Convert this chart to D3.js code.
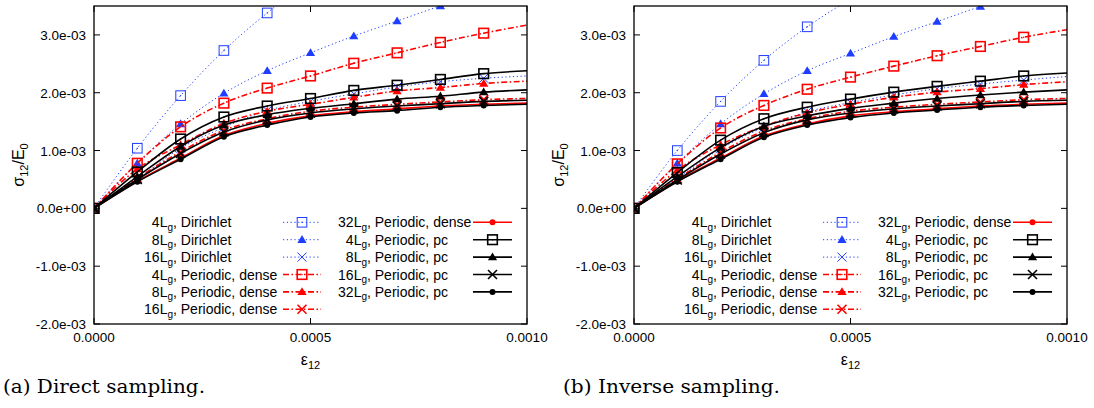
<!DOCTYPE html>
<html>
<head>
<meta charset="utf-8">
<script src="https://cdn.jsdelivr.net/npm/d3@7"></script>
<style>
  body { margin: 0; background: #fff; }
  svg text { font-family: 'Liberation Sans', Arial, sans-serif; fill: #000; }
  svg text.caption { font-family: 'DejaVu Serif', serif; }
</style>
</head>
<body>
<svg id="chart"></svg>
<script>
// strain values, one per sample (markers on all but the last)
const strain = [0, 0.0001, 0.0002, 0.0003, 0.0004, 0.0005, 0.0006, 0.0007, 0.0008, 0.0009, 0.001]
const xTicks = [0, 0.0005, 0.001]
const xTickLabels = ['0.0000', '0.0005', '0.0010']
const yTicks = [-2e-3, -1e-3, 0, 1e-3, 2e-3, 3e-3]
const yTickLabels = ['-2.0e-03', '-1.0e-03', '0.0e+00', '1.0e-03', '2.0e-03', '3.0e-03']

// legend order
const seriesSize = ['4', '8', '16', '4', '8', '16', '32', '4', '8', '16', '32']
const seriesCase = ['Dirichlet', 'Dirichlet', 'Dirichlet',
  'Periodic, dense', 'Periodic, dense', 'Periodic, dense', 'Periodic, dense',
  'Periodic, pc', 'Periodic, pc', 'Periodic, pc', 'Periodic, pc']

const captions = ['(a) Direct sampling.', '(b) Inverse sampling.']

// sigma12 / E0, in units of 1e-3, same order as the legend
const directSampling = [
  [0, 1.04, 1.95, 2.73, 3.38, 3.95, 4.45],
  [0, 0.78, 1.46, 1.99, 2.38, 2.69, 2.98, 3.24, 3.50, 3.72],
  [0, 0.50, 1.04, 1.40, 1.69, 1.85, 1.98, 2.10, 2.19, 2.25, 2.29],
  [0, 0.78, 1.41, 1.82, 2.08, 2.29, 2.51, 2.69, 2.87, 3.03, 3.17],
  [0, 0.68, 1.10, 1.47, 1.68, 1.80, 1.92, 2.03, 2.09, 2.16, 2.20],
  [0, 0.52, 0.98, 1.35, 1.55, 1.68, 1.75, 1.80, 1.84, 1.88, 1.90],
  [0, 0.47, 0.87, 1.26, 1.47, 1.60, 1.67, 1.72, 1.77, 1.80, 1.82],
  [0, 0.63, 1.20, 1.58, 1.77, 1.90, 2.04, 2.13, 2.23, 2.33, 2.38],
  [0, 0.55, 1.07, 1.44, 1.62, 1.73, 1.81, 1.89, 1.94, 2.01, 2.05],
  [0, 0.50, 0.95, 1.32, 1.53, 1.65, 1.72, 1.77, 1.81, 1.85, 1.87],
  [0, 0.46, 0.85, 1.24, 1.44, 1.58, 1.65, 1.69, 1.75, 1.78, 1.80]
]

const inverseSampling = [
  [0, 1.00, 1.85, 2.56, 3.14, 3.62, 4.05],
  [0, 0.78, 1.46, 1.98, 2.38, 2.68, 2.97, 3.23, 3.49, 3.72],
  [0, 0.52, 1.03, 1.40, 1.67, 1.83, 1.96, 2.07, 2.15, 2.22, 2.28],
  [0, 0.77, 1.39, 1.78, 2.06, 2.27, 2.46, 2.64, 2.80, 2.96, 3.09],
  [0, 0.66, 1.10, 1.42, 1.65, 1.80, 1.92, 2.01, 2.07, 2.14, 2.19],
  [0, 0.51, 0.97, 1.34, 1.55, 1.68, 1.75, 1.80, 1.84, 1.88, 1.90],
  [0, 0.47, 0.87, 1.25, 1.46, 1.60, 1.67, 1.72, 1.77, 1.80, 1.82],
  [0, 0.62, 1.18, 1.55, 1.75, 1.89, 2.01, 2.11, 2.20, 2.29, 2.34],
  [0, 0.55, 1.05, 1.42, 1.60, 1.73, 1.82, 1.90, 1.96, 2.01, 2.05],
  [0, 0.49, 0.94, 1.31, 1.53, 1.65, 1.72, 1.77, 1.81, 1.85, 1.87],
  [0, 0.46, 0.85, 1.23, 1.44, 1.57, 1.65, 1.70, 1.75, 1.78, 1.80]
]

// styles
const blue = '#1f3dff'
const red = '#ff0000'
const styles = [
  { color: blue, dash: '1.2,2.6', width: 1, marker: 'square' },
  { color: blue, dash: '1.2,2.6', width: 1, marker: 'triangle' },
  { color: blue, dash: '1.2,2.6', width: 1, marker: 'cross' },
  { color: red, dash: '6,2.5,1.5,2.5', width: 1.6, marker: 'square' },
  { color: red, dash: '6,2.5,1.5,2.5', width: 1.6, marker: 'triangle' },
  { color: red, dash: '6,2.5,1.5,2.5', width: 1.6, marker: 'cross' },
  { color: red, dash: null, width: 1.6, marker: 'circle' },
  { color: '#000', dash: null, width: 1.6, marker: 'square' },
  { color: '#000', dash: null, width: 1.6, marker: 'triangle' },
  { color: '#000', dash: null, width: 1.6, marker: 'cross' },
  { color: '#000', dash: null, width: 1.6, marker: 'circle' }
]

const W = 1094
const H = 408
const panelOffset = 540
const plot = { left: 94, top: 6, width: 433, height: 318 }

const svg = d3.select('#chart').attr('width', W).attr('height', H)

const xPositionScale = d3.scaleLinear().domain([0, 0.001]).range([0, plot.width])
const yPositionScale = d3.scaleLinear().domain([-2e-3, 3.5e-3]).range([plot.height, 0])

function drawMarker(g, type, cx, cy, s) {
  if (type === 'square') {
    g.append('rect')
      .attr('x', cx - 4.8).attr('y', cy - 4.8)
      .attr('width', 9.6).attr('height', 9.6)
      .attr('fill', 'none').attr('stroke', s.color).attr('stroke-width', s.width)
    g.append('circle').attr('cx', cx).attr('cy', cy).attr('r', 0.7).attr('fill', s.color)
  } else if (type === 'triangle') {
    g.append('path')
      .attr('d', `M${cx},${cy - 4.6}L${cx + 4.6},${cy + 3.2}L${cx - 4.6},${cy + 3.2}Z`)
      .attr('fill', s.color)
  } else if (type === 'cross') {
    g.append('path')
      .attr('d', `M${cx - 4.5},${cy - 4.5}L${cx + 4.5},${cy + 4.5}M${cx - 4.5},${cy + 4.5}L${cx + 4.5},${cy - 4.5}`)
      .attr('stroke', s.color).attr('stroke-width', s.width).attr('fill', 'none')
  } else {
    g.append('circle').attr('cx', cx).attr('cy', cy).attr('r', 3).attr('fill', s.color)
  }
}

function drawPanel(p, values) {
  const ox = plot.left + p * panelOffset
  const g = svg.append('g').attr('transform', `translate(${ox},${plot.top})`)

  const clipId = 'clip' + p
  g.append('clipPath').attr('id', clipId)
    .append('rect').attr('width', plot.width).attr('height', plot.height)

  // ticks (inward, mirrored)
  yTicks.forEach(function(t) {
    const y = yPositionScale(t)
    g.append('line').attr('x1', 0).attr('x2', 6).attr('y1', y).attr('y2', y)
      .attr('stroke', '#000').attr('stroke-width', 1)
    g.append('line').attr('x1', plot.width - 6).attr('x2', plot.width).attr('y1', y).attr('y2', y)
      .attr('stroke', '#000').attr('stroke-width', 1)
  })
  xTicks.forEach(function(t) {
    const x = xPositionScale(t)
    g.append('line').attr('x1', x).attr('x2', x).attr('y1', plot.height).attr('y2', plot.height - 6)
      .attr('stroke', '#000').attr('stroke-width', 1)
    g.append('line').attr('x1', x).attr('x2', x).attr('y1', 0).attr('y2', 6)
      .attr('stroke', '#000').attr('stroke-width', 1)
  })

  // tick labels
  g.selectAll('.ylab').data(yTicks).enter().append('text')
    .attr('x', -8).attr('y', d => yPositionScale(d) + 5)
    .attr('text-anchor', 'end').attr('font-size', 13.5)
    .text((d, i) => yTickLabels[i])
  g.selectAll('.xlab').data(xTicks).enter().append('text')
    .attr('x', d => xPositionScale(d)).attr('y', plot.height + 18)
    .attr('text-anchor', 'middle').attr('font-size', 13.5)
    .text((d, i) => xTickLabels[i])

  // series
  const line = d3.line()
    .x((d, i) => xPositionScale(strain[i]))
    .y(d => yPositionScale(d * 1e-3))
    .curve(d3.curveMonotoneX)

  const plotArea = g.append('g').attr('clip-path', `url(#${clipId})`)
  values.forEach(function(series, k) {
    const s = styles[k]
    plotArea.append('path')
      .datum(series)
      .attr('d', line)
      .attr('fill', 'none')
      .attr('stroke', s.color)
      .attr('stroke-width', s.width)
      .attr('stroke-dasharray', s.dash)
    series.forEach(function(v, i) {
      if (i > 9) return
      drawMarker(plotArea, s.marker, xPositionScale(strain[i]), yPositionScale(v * 1e-3), s)
    })
  })

  // legend
  const legend = g.append('g')
  const cols = [
    { anchor: 79, x1: 189, x2: 227, rows: [0, 1, 2, 3, 4, 5] },
    { anchor: 273, x1: 379, x2: 418, rows: [6, 7, 8, 9, 10] }
  ]
  cols.forEach(function(c) {
    c.rows.forEach(function(k, r) {
      const cy = 216.3 + r * 17.4
      const s = styles[k]
      const t = legend.append('text')
        .attr('x', c.anchor).attr('y', cy + 5)
        .attr('text-anchor', 'end').attr('font-size', 14)
      t.append('tspan').text(seriesSize[k] + 'L')
      t.append('tspan').attr('font-size', 10).attr('dy', 3.5).text('g')
      legend.append('text')
        .attr('x', c.anchor).attr('y', cy + 5)
        .attr('font-size', 14)
        .text(', ' + seriesCase[k])
      legend.append('line')
        .attr('x1', c.x1).attr('x2', c.x2).attr('y1', cy).attr('y2', cy)
        .attr('stroke', s.color).attr('stroke-width', s.width)
        .attr('stroke-dasharray', s.dash)
      drawMarker(legend, s.marker, (c.x1 + c.x2) / 2, cy, s)
    })
  })

  // border
  g.append('rect')
    .attr('width', plot.width).attr('height', plot.height)
    .attr('fill', 'none').attr('stroke', '#000').attr('stroke-width', 1.3)

  // axis titles
  const xt = g.append('text')
    .attr('x', plot.width / 2).attr('y', plot.height + 41)
    .attr('text-anchor', 'middle').attr('font-size', 16)
  xt.append('tspan').text('ε')
  xt.append('tspan').attr('font-size', 11).attr('dy', 3.5).text('12')

  const yt = g.append('text')
    .attr('transform', `translate(-70,${plot.height / 2}) rotate(-90)`)
    .attr('text-anchor', 'middle').attr('font-size', 16)
  yt.append('tspan').text('σ')
  yt.append('tspan').attr('font-size', 11).attr('dy', 3.5).text('12')
  yt.append('tspan').attr('dy', -3.5).text('/E')
  yt.append('tspan').attr('font-size', 11).attr('dy', 3.5).text('0')

  // caption
  svg.append('text')
    .attr('class', 'caption')
    .attr('x', 3 + p * 560).attr('y', 393)
    .attr('font-size', 18.5)
    .attr('textLength', p === 0 ? 202 : 217)
    .attr('lengthAdjust', 'spacingAndGlyphs')
    .text(captions[p])
}

drawPanel(0, directSampling)
drawPanel(1, inverseSampling)
</script>
</body>
</html>
